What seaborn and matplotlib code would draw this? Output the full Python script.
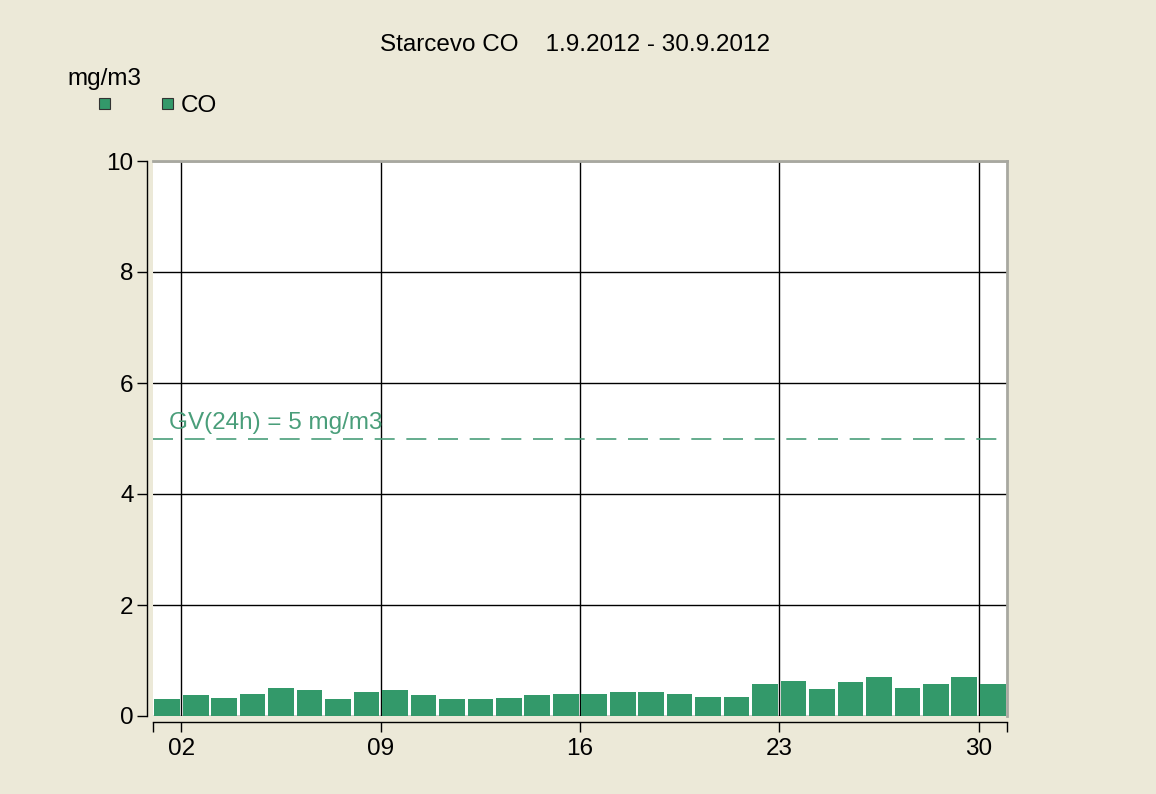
import pandas as pd
import matplotlib.pyplot as plt
import matplotlib.patches as mpatches
import seaborn as sns

# daily CO averages, Starcevo, September 2012
days = [f"{d:02d}" for d in range(1, 31)]
co_values = [0.30, 0.38, 0.32, 0.40, 0.50, 0.47, 0.30, 0.43, 0.47, 0.38,
             0.30, 0.30, 0.32, 0.37, 0.40, 0.40, 0.43, 0.43, 0.40, 0.35,
             0.35, 0.58, 0.63, 0.48, 0.61, 0.70, 0.50, 0.58, 0.70, 0.58]
tick_days = ["02", "09", "16", "23", "30"]
limit_value = 5
limit_label = "GV(24h) = 5 mg/m3"

df = pd.DataFrame({"day": days, "co": co_values})

bg = "#ece9d8"
bar_color = "#33996a"
line_color = "#4a9e7a"
fs = 17.5

sns.set_style("white")
plt.rcParams["font.family"] = ["Liberation Sans", "DejaVu Sans"]
plt.rcParams["text.color"] = "black"

fig = plt.figure(figsize=(11.56, 7.94), dpi=100, facecolor=bg)
ax = fig.add_axes([153 / 1156, 1 - 716 / 794, (1007 - 153) / 1156, (716 - 161) / 794])
ax.set_facecolor("white")

sns.barplot(data=df, x="day", y="co", color=bar_color, saturation=1,
            width=0.9, linewidth=0, ax=ax, zorder=3)

# dashed guideline value
ax.axhline(limit_value, color=line_color, linestyle=(0, (12, 7)), linewidth=1.2, zorder=2)
ax.text(0.05, limit_value + 0.08, limit_label, color=line_color, fontsize=fs,
        ha="left", va="bottom", zorder=4)

ax.set_xlim(-0.5, len(days) - 0.5)
ax.set_ylim(0, 10)

tick_pos = [days.index(d) - 0.5 for d in tick_days]
ax.set_xticks(tick_pos)
ax.set_xticklabels(tick_days)
ax.set_xticks([-0.5, len(days) - 0.5], minor=True)
ax.set_yticks([0, 2, 4, 6, 8, 10])

ax.grid(True, which="major", color="black", linewidth=1, zorder=1)
ax.set_axisbelow(True)

ax.tick_params(axis="both", which="both", direction="out", length=7, width=1,
               color="black", labelcolor="black", labelsize=fs, pad=3,
               bottom=True, left=True)
ax.tick_params(axis="x", which="major", pad=5)

for side in ["left", "bottom"]:
    ax.spines[side].set_position(("outward", 4))
    ax.spines[side].set_color("black")
    ax.spines[side].set_linewidth(1)
for side in ["top", "right"]:
    ax.spines[side].set_color("#a8a8a0")
    ax.spines[side].set_linewidth(2)

ax.set_xlabel("")
ax.set_ylabel("")

fig.text(0.497, 1 - 45 / 794, "Starcevo CO    1.9.2012 - 30.9.2012",
         ha="center", va="center", fontsize=fs)
fig.text(67 / 1156, 1 - 79 / 794, "mg/m3", ha="left", va="center", fontsize=fs)

handles = [mpatches.Patch(facecolor=bar_color, edgecolor="#333333", linewidth=0.8),
           mpatches.Patch(facecolor=bar_color, edgecolor="#333333", linewidth=0.8)]
fig.legend(handles, ["", "CO"], ncol=2, loc="center left",
           bbox_to_anchor=(87 / 1156, 1 - 106 / 794), frameon=False,
           fontsize=fs, handlelength=0.45, handleheight=0.3,
           handletextpad=0.3, columnspacing=1.85, borderpad=0)

fig.savefig("out.png", dpi=100, facecolor=bg)
